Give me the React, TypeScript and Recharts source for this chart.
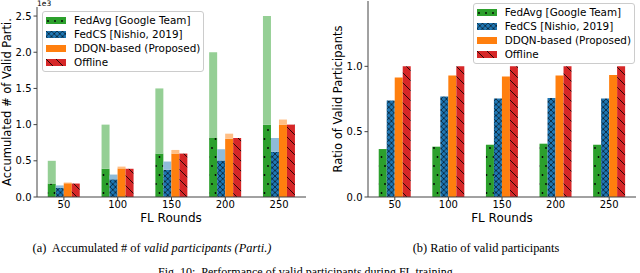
import React from "react";
import { BarChart, Bar, XAxis, YAxis } from "recharts";

const rounds = ["50", "100", "150", "200", "250"];

// accumulated participants (counts)
const fedAvgTotal = [500, 1000, 1500, 2000, 2500];
const fedAvgValid = [186, 390, 600, 815, 1000];
const fedCsTotal = [160, 310, 490, 660, 815];
const fedCsValid = [125, 245, 375, 505, 625];
const ddqnTotal = [200, 420, 650, 875, 1070];
const ddqnValid = [190, 395, 600, 805, 1000];
const offlineValid = [186, 390, 600, 815, 1000];

// ratio of valid participants
const fedAvgRatio = [0.367, 0.385, 0.4, 0.408, 0.4];
const fedCsRatio = [0.738, 0.77, 0.754, 0.757, 0.754];
const ddqnRatio = [0.915, 0.93, 0.923, 0.93, 0.933];
const offlineRatio = [1, 1, 1, 1, 1];

const countTicks = [0, 500, 1000, 1500, 2000, 2500];
const ratioTicks = [0, 0.5, 1];

const legendNames = [
  "FedAvg [Google Team]",
  "FedCS [Nishio, 2019]",
  "DDQN-based (Proposed)",
  "Offline",
];

const countData = rounds.map((r, i) => ({
  round: r,
  fedAvgValid: fedAvgValid[i],
  fedAvgRest: fedAvgTotal[i] - fedAvgValid[i],
  fedCsValid: fedCsValid[i],
  fedCsRest: fedCsTotal[i] - fedCsValid[i],
  ddqnValid: ddqnValid[i],
  ddqnRest: ddqnTotal[i] - ddqnValid[i],
  offline: offlineValid[i],
}));

const ratioData = rounds.map((r, i) => ({
  round: r,
  fedAvg: fedAvgRatio[i],
  fedCs: fedCsRatio[i],
  ddqn: ddqnRatio[i],
  offline: offlineRatio[i],
}));

const FONT = "'DejaVu Sans', sans-serif";
const SERIF = "'Liberation Serif', 'Times New Roman', serif";
const AX = "#444";

const fills = ["url(#dots)", "url(#cross)", "#ff7f0e", "url(#bslash)"];

const Patterns = () => (
  <svg width={0} height={0} style={{ position: "absolute" }}>
    <defs>
      <pattern id="dots" width={7} height={18} patternUnits="userSpaceOnUse">
        <rect width={7} height={18} fill="#2ca02c" />
        <circle cx={2} cy={4} r={0.9} fill="#000" />
        <circle cx={5.5} cy={13} r={0.9} fill="#000" />
      </pattern>
      <pattern id="cross" width={5.5} height={5.5} patternUnits="userSpaceOnUse">
        <rect width={5.5} height={5.5} fill="#1f77b4" />
        <path d="M0,0 L5.5,5.5 M5.5,0 L0,5.5" stroke="#000" strokeWidth={0.6} />
      </pattern>
      <pattern id="bslash" width={10} height={10} patternUnits="userSpaceOnUse">
        <rect width={10} height={10} fill="#d62728" />
        <path d="M0,0 L10,10 M-1,9 L1,11 M9,-1 L11,1" stroke="#000" strokeWidth={0.8} />
      </pattern>
    </defs>
  </svg>
);

const LegendBox = ({ pos }: { pos: React.CSSProperties }) => (
  <div
    style={{
      position: "absolute",
      ...pos,
      padding: "1px 3px 2px 3px",
      background: "rgba(255,255,255,0.85)",
      border: "1px solid #ccc",
      borderRadius: 3,
      fontFamily: FONT,
      fontSize: 10.4,
      lineHeight: "14px",
    }}
  >
    {legendNames.map((n, i) => (
      <div key={n} style={{ display: "flex", alignItems: "center", whiteSpace: "nowrap" }}>
        <svg width={20} height={7} style={{ marginRight: 8, flexShrink: 0 }}>
          <rect width={20} height={7} fill={fills[i]} />
        </svg>
        {n}
      </div>
    ))}
  </div>
);

const Txt = ({
  x,
  y,
  size,
  rotate,
  family,
  children,
}: {
  x: number;
  y: number;
  size: number;
  rotate?: boolean;
  family?: string;
  children: React.ReactNode;
}) => (
  <div
    style={{
      position: "absolute",
      left: x,
      top: y,
      transform: `translate(-50%, -50%)${rotate ? " rotate(-90deg)" : ""}`,
      whiteSpace: "nowrap",
      fontFamily: family || FONT,
      fontSize: size,
      color: "#000",
    }}
  >
    {children}
  </div>
);

const tickStyle = { fontSize: 10, fill: "#000", fontFamily: FONT };

const frameAxes = (max: number) => [
  <XAxis key="t" xAxisId="top" orientation="top" dataKey="round" tick={false} tickLine={false} height={0} stroke={AX} />,
  <YAxis key="r" yAxisId="right" orientation="right" domain={[0, max]} tick={false} tickLine={false} width={0} stroke={AX} />,
];

export default function App() {
  return (
    <div
      style={{
        position: "absolute",
        left: 0,
        top: 0,
        width: 640,
        height: 273,
        overflow: "hidden",
        background: "#fff",
      }}
    >
      <Patterns />
      <div style={{ position: "absolute", left: 0, top: 0 }}>
        <BarChart
          width={320}
          height={273}
          data={countData}
          margin={{ top: 7, right: 14, left: 0, bottom: 46 }}
          barCategoryGap="20%"
          barGap={0}
        >
          <XAxis dataKey="round" tick={tickStyle} tickSize={3.5} tickMargin={0} height={30} stroke={AX} interval={0} />
          <YAxis
            domain={[0, 2625]}
            ticks={countTicks}
            tickFormatter={(v: number) => (v / 1000).toFixed(1)}
            tick={tickStyle}
            tickSize={3.5}
            width={37}
            stroke={AX}
          />
          {frameAxes(2625)}
          <Bar dataKey="fedAvgValid" stackId="a" fill="url(#dots)" isAnimationActive={false} />
          <Bar dataKey="fedAvgRest" stackId="a" fill="#95cf95" isAnimationActive={false} />
          <Bar dataKey="fedCsValid" stackId="b" fill="url(#cross)" isAnimationActive={false} />
          <Bar dataKey="fedCsRest" stackId="b" fill="#8fbbd9" isAnimationActive={false} />
          <Bar dataKey="ddqnValid" stackId="c" fill="#ff7f0e" isAnimationActive={false} />
          <Bar dataKey="ddqnRest" stackId="c" fill="#ffbf86" isAnimationActive={false} />
          <Bar dataKey="offline" stackId="d" fill="url(#bslash)" isAnimationActive={false} />
        </BarChart>
      </div>
      <div style={{ position: "absolute", left: 320, top: 0 }}>
        <BarChart
          width={320}
          height={273}
          data={ratioData}
          margin={{ top: 1, right: 4, left: 0, bottom: 46 }}
          barCategoryGap="20%"
          barGap={0}
        >
          <XAxis dataKey="round" tick={tickStyle} tickSize={3.5} tickMargin={0} height={30} stroke={AX} interval={0} />
          <YAxis
            domain={[0, 1.5]}
            ticks={ratioTicks}
            tickFormatter={(v: number) => v.toFixed(1)}
            tick={tickStyle}
            tickSize={3.5}
            width={48}
            stroke={AX}
          />
          {frameAxes(1.5)}
          <Bar dataKey="fedAvg" fill="url(#dots)" isAnimationActive={false} />
          <Bar dataKey="fedCs" fill="url(#cross)" isAnimationActive={false} />
          <Bar dataKey="ddqn" fill="#ff7f0e" isAnimationActive={false} />
          <Bar dataKey="offline" fill="url(#bslash)" isAnimationActive={false} />
        </BarChart>
      </div>

      <LegendBox pos={{ left: 42, top: 11 }} />
      <LegendBox pos={{ right: 5, top: 3 }} />

      <div style={{ position: "absolute", left: 37, top: -1, fontFamily: FONT, fontSize: 7.5, lineHeight: "9px" }}>1e3</div>
      <Txt x={7} y={102} size={11.5} rotate>
        Accumulated # of Valid Parti.
      </Txt>
      <Txt x={338} y={99} size={11.5} rotate>
        Ratio of Valid Participants
      </Txt>
      <Txt x={171} y={218} size={12}>
        FL Rounds
      </Txt>
      <Txt x={502} y={218} size={12}>
        FL Rounds
      </Txt>
      <Txt x={152} y={248} size={12.4} family={SERIF}>
        (a)&nbsp; Accumulated # of <i>valid participants (Parti.)</i>
      </Txt>
      <Txt x={486} y={248} size={12.4} family={SERIF}>
        (b) Ratio of valid participants
      </Txt>
      <div
        style={{
          position: "absolute",
          left: 158,
          top: 265,
          fontFamily: SERIF,
          fontSize: 12,
          whiteSpace: "nowrap",
        }}
      >
        Fig. 10:&nbsp; Performance of valid participants during FL training
      </div>
    </div>
  );
}
